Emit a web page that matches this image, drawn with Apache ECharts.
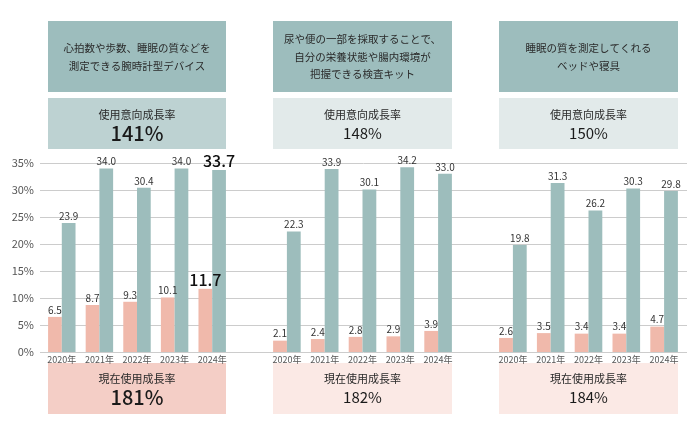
<!DOCTYPE html>
<html><head><meta charset="utf-8">
<script src="https://cdn.jsdelivr.net/npm/echarts@6/dist/echarts.min.js"></script>
<style>html,body{margin:0;padding:0;background:#fff}#c{width:700px;height:432px}</style>
</head><body><div id="c"></div>
<script>
const years = ['2020年','2021年','2022年','2023年','2024年'];
const yTicks = [0,5,10,15,20,25,30,35];
const titles = [
  '心拍数や歩数、睡眠の質などを\n測定できる腕時計型デバイス',
  '尿や便の一部を採取することで、\n自分の栄養状態や腸内環境が\n把握できる検査キット',
  '睡眠の質を測定してくれる\nベッドや寝具'
];
const intentRate = ['141%','148%','150%'];
const currentRate = ['181%','182%','184%'];
const current1 = [6.5, 8.7, 9.3, 10.1, 11.7];
const intent1 = [23.9, 34.0, 30.4, 34.0, 33.7];
const current2 = [2.1, 2.4, 2.8, 2.9, 3.9];
const intent2 = [22.3, 33.9, 30.1, 34.2, 33.0];
const current3 = [2.6, 3.5, 3.4, 3.4, 4.7];
const intent3 = [19.8, 31.3, 26.2, 30.3, 29.8];

const FONT = '"Noto Sans CJK JP","Noto Sans",sans-serif';
const PINK = '#f0b9ab', TEAL = '#9dbdbc';
const panels = [
  {left:43, width:188, cur:current1, int:intent1, hl:true, hdr:'#9dbdbd', box2:'#bdd2d2', box3:'#f4cec6'},
  {left:268, width:189, cur:current2, int:intent2, hl:false, hdr:'#9dbdbd', box2:'#e2eaea', box3:'#fbe9e5'},
  {left:494, width:189, cur:current3, int:intent3, hl:false, hdr:'#9dbdbd', box2:'#e2eaea', box3:'#fbe9e5'}
];
const TOP = 163, BOTTOM = 80;
const grid = [{left:40, right:13, top:TOP, bottom:BOTTOM}];
const xAxis = [{type:'category', gridIndex:0, data:years, show:false}];
const yAxis = [{type:'value', gridIndex:0, min:0, max:yTicks[yTicks.length-1], interval:5,
  axisLine:{show:false}, axisTick:{show:false},
  axisLabel:{formatter:'{value}%', fontSize:11, color:'#555', fontFamily:FONT, margin:6},
  splitLine:{lineStyle:{color:'#cccccc', width:1}}}];
const series = [];
const graphic = [];
const lbl = {show:true, position:'top', distance:2, fontSize:10, color:'#333', fontFamily:FONT,
  formatter:p=>Number(p.value).toFixed(1)};
function items(arr, hl){
  return arr.map((v,i)=> (hl && i===arr.length-1) ? {value:v, label:{fontSize:16, color:'#111', fontWeight:500, distance:1}} : v);
}
panels.forEach((p,k)=>{
  const gi = k+1;
  grid.push({left:p.left, width:p.width, top:TOP, bottom:BOTTOM});
  xAxis.push({type:'category', gridIndex:gi, data:years, axisLine:{show:false}, axisTick:{show:false},
    axisLabel:{fontSize:9, color:'#555', fontFamily:FONT, margin:3, interval:0, hideOverlap:false}});
  yAxis.push({type:'value', gridIndex:gi, min:0, max:35, show:false, splitLine:{show:false}});
  series.push({type:'bar', xAxisIndex:gi, yAxisIndex:gi, data:items(p.cur,p.hl), barGap:0, barCategoryGap:'27%',
    itemStyle:{color:PINK}, label:lbl});
  series.push({type:'bar', xAxisIndex:gi, yAxisIndex:gi, data:items(p.int,p.hl), barGap:0, barCategoryGap:'27%',
    itemStyle:{color:TEAL}, label:lbl});
  const x0 = p.left+5, w = p.width-10, cx = x0 + w/2;
  graphic.push({type:'rect', shape:{x:x0, y:21, width:w, height:71}, style:{fill:p.hdr}, silent:true});
  graphic.push({type:'text', x:cx, y:57, style:{text:titles[k], fill:'#2a2a2a', font:'10.5px '+FONT,
    align:'center', verticalAlign:'middle', lineHeight:17.5}, silent:true});
  graphic.push({type:'rect', shape:{x:x0, y:98, width:w, height:51}, style:{fill:p.box2}, silent:true});
  graphic.push({type:'text', x:cx, y:115, style:{text:'使用意向成長率', fill:'#2a2a2a', font:'11px '+FONT,
    align:'center', verticalAlign:'middle'}, silent:true});
  graphic.push({type:'text', x:cx, y:133, style:{text:intentRate[k], fill:'#1a1a1a',
    font:(p.hl?'500 20px ':'15px ')+FONT, align:'center', verticalAlign:'middle'}, silent:true});
  graphic.push({type:'rect', shape:{x:x0, y:363, width:w, height:51}, style:{fill:p.box3}, silent:true});
  graphic.push({type:'text', x:cx, y:379, style:{text:'現在使用成長率', fill:'#2a2a2a', font:'11px '+FONT,
    align:'center', verticalAlign:'middle'}, silent:true});
  graphic.push({type:'text', x:cx, y:397, style:{text:currentRate[k], fill:'#1a1a1a',
    font:(p.hl?'500 20px ':'15px ')+FONT, align:'center', verticalAlign:'middle'}, silent:true});
});
const chart = echarts.init(document.getElementById('c'), null, {renderer:'canvas'});
chart.setOption({animation:false, backgroundColor:'#fff', textStyle:{fontFamily:FONT},
  grid, xAxis, yAxis, series, graphic});
</script></body></html>
